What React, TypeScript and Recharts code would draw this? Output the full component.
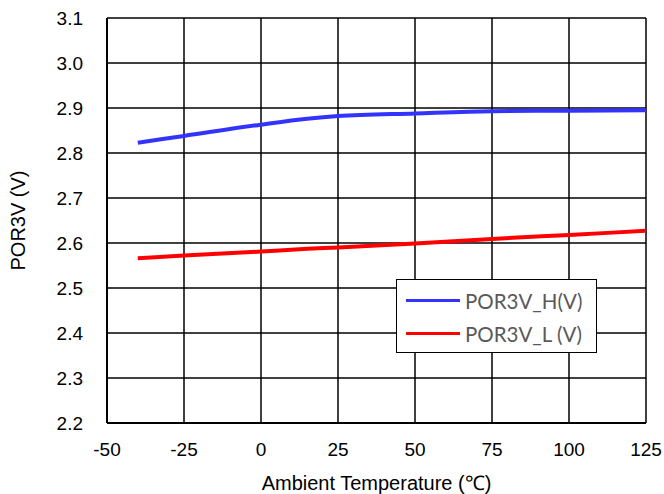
import React from 'react';
import {
  LineChart,
  Line,
  XAxis,
  YAxis,
  CartesianGrid,
  Legend,
  Label,
} from 'recharts';

const temperatures = [-40, -25, 0, 15, 25, 50, 75, 100, 125];
const porHigh = [2.823, 2.838, 2.863, 2.876, 2.882, 2.888, 2.893, 2.894, 2.895];
const porLow = [2.566, 2.572, 2.581, 2.587, 2.590, 2.599, 2.609, 2.618, 2.627];

const xTicks = [-50, -25, 0, 25, 50, 75, 100, 125];
const yTicks = [2.2, 2.3, 2.4, 2.5, 2.6, 2.7, 2.8, 2.9, 3.0, 3.1];

const data = temperatures.map((t, i) => ({
  temp: t,
  high: porHigh[i],
  low: porLow[i],
}));

const axisFont = { fontFamily: 'Liberation Sans, Arial, sans-serif', fontSize: 19, fill: '#000' };

const LegendBox = ({ payload }: any) => (
  <div
    style={{
      border: '1.5px solid #000',
      background: '#fff',
      width: 201,
      height: 74,
      boxSizing: 'border-box',
      padding: '4px 0 0 9px',
      fontFamily: 'Lato, sans-serif',
      fontSize: 20.5,
      color: '#595959',
    }}
  >
    {(payload || []).map((p: any) => (
      <div key={p.value} style={{ display: 'flex', alignItems: 'center', height: 33 }}>
        <span style={{ display: 'inline-block', width: 54, height: 3, background: p.color, marginRight: 5 }} />
        <span>{p.value}</span>
      </div>
    ))}
  </div>
);

const YTitle = ({ viewBox }: any) => {
  const x = viewBox.x + 18;
  const y = viewBox.y + viewBox.height / 2;
  return (
    <text
      x={x}
      y={y}
      transform={`rotate(-90, ${x}, ${y})`}
      textAnchor="middle"
      dominantBaseline="central"
      style={{ fontFamily: 'Liberation Sans, Arial, sans-serif', fontSize: 20 }}
      fill="#000"
    >
      POR3V (V)
    </text>
  );
};

export default function App() {
  return (
    <div style={{ position: 'absolute', left: 0, top: 0, background: '#fff' }}>
      <LineChart width={664} height={494} data={data} margin={{ top: 18, right: 18, left: 0, bottom: 0 }}>
        <CartesianGrid stroke="#000" strokeWidth={1.5} horizontalValues={yTicks} verticalValues={xTicks} />
        <XAxis
          dataKey="temp"
          type="number"
          domain={[-50, 125]}
          ticks={xTicks}
          height={71}
          tickLine={false}
          tickSize={0}
          tickMargin={20}
          axisLine={{ stroke: '#000', strokeWidth: 2 }}
          tick={axisFont}
          interval={0}
        >
          <Label
            value="Ambient Temperature (℃)"
            position="insideBottom"
            offset={4}
            style={{ fontFamily: 'Liberation Sans, Arial, sans-serif', fontSize: 20, fill: '#000' }}
          />
        </XAxis>
        <YAxis
          type="number"
          domain={[2.2, 3.1]}
          ticks={yTicks}
          width={107}
          tickLine={false}
          tickSize={0}
          tickMargin={24}
          axisLine={{ stroke: '#000', strokeWidth: 2 }}
          tick={axisFont}
          tickFormatter={(v: number) => v.toFixed(1)}
          interval={0}
          allowDataOverflow
        >
          <Label content={<YTitle />} />
        </YAxis>
        <Legend
          layout="vertical"
          align="center"
          verticalAlign="middle"
          content={<LegendBox />}
          wrapperStyle={{ position: 'absolute', left: 396, top: 279, width: 201, height: 74 }}
        />
        <Line
          type="monotone"
          dataKey="high"
          name="POR3V_H(V)"
          stroke="#3333ff"
          strokeWidth={4}
          dot={false}
          isAnimationActive={false}
        />
        <Line
          type="monotone"
          dataKey="low"
          name="POR3V_L (V)"
          stroke="#ff0000"
          strokeWidth={4}
          dot={false}
          isAnimationActive={false}
        />
      </LineChart>
    </div>
  );
}
